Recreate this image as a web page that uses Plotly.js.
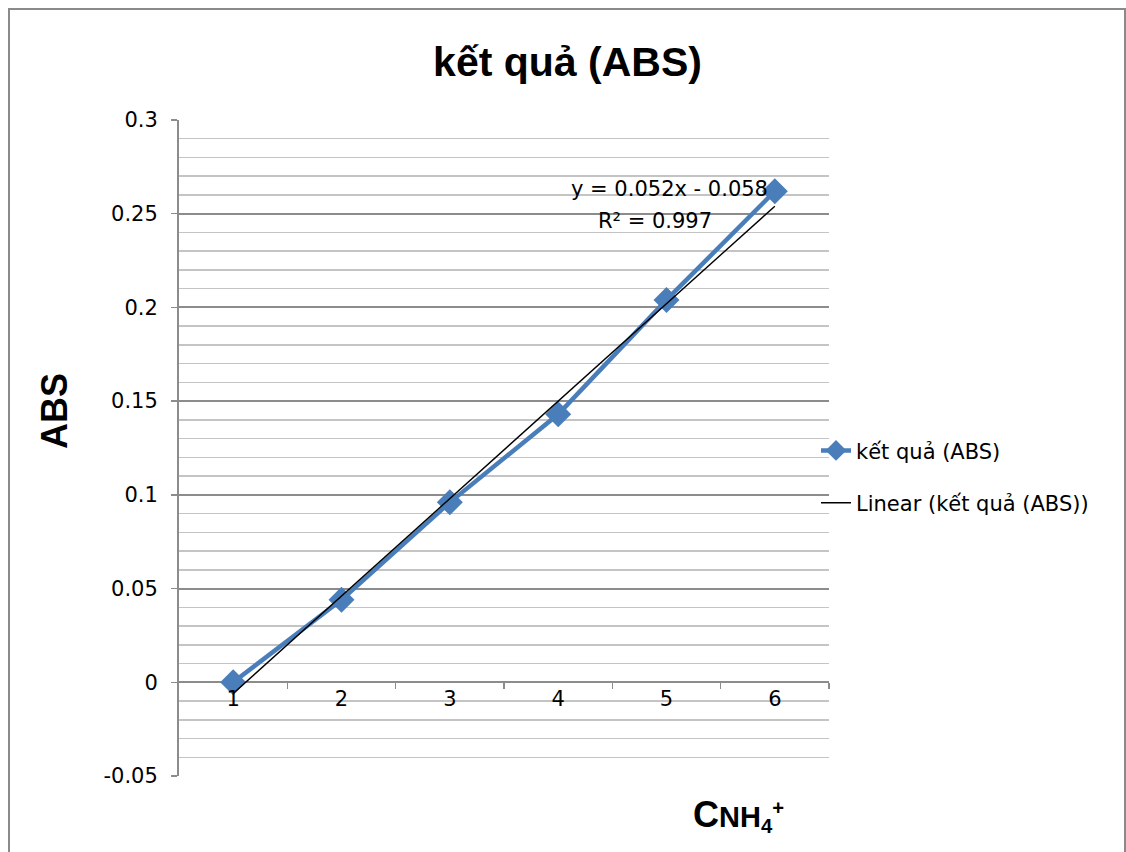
<!DOCTYPE html>
<html>
<head>
<meta charset="utf-8">
<script src="https://cdn.plot.ly/plotly-3.0.1.min.js"></script>
<style>
  html, body { margin: 0; padding: 0; background: #ffffff; overflow: hidden; }
  #wrap { position: relative; width: 1126px; height: 852px; }
  #chart { position: absolute; left: 0; top: 0; width: 1126px; height: 852px; }
  #frame { position: absolute; left: 8px; top: 8px; width: 1114px; height: 900px;
           border: 2px solid #8a8a8a; pointer-events: none; }
</style>
</head>
<body>
<div id="wrap">
  <div id="chart"></div>
  <div id="frame"></div>
</div>
<script>
// Concentration index and measured absorbance
const concentration = [1, 2, 3, 4, 5, 6];
const absorbance = [0, 0.044, 0.096, 0.143, 0.204, 0.262];

// Linear trendline as reported on the chart
const trendSlope = 0.052;
const trendIntercept = -0.058;
const trendR2 = 0.997;

// Axis tick labels
const xTickVals = [1, 2, 3, 4, 5, 6];
const xTickText = ['1', '2', '3', '4', '5', '6'];
const xDividers = [1.5, 2.5, 3.5, 4.5, 5.5, 6.5];
const yTickVals = [-0.05, 0, 0.05, 0.1, 0.15, 0.2, 0.25, 0.3];
const yTickText = ['-0.05', '0', '0.05', '0.1', '0.15', '0.2', '0.25', '0.3'];

// Minor gridlines every 0.01, skipping the major positions
const yMinorVals = [];
for (let k = -4; k < 30; k++) {
  if (k % 5 !== 0) yMinorVals.push(k / 100);
}

const seriesName = 'kết quả (ABS)';
const trendName = 'Linear (kết quả (ABS))';

const blue = '#4a7ebb';
const majorGrid = '#8c8c8c';
const minorGrid = '#c4c4c4';
const bodyFont = 'DejaVu Sans, Noto Sans, sans-serif';
const boldFont = 'Liberation Sans, Arial, sans-serif';

const trendY = concentration.map(x => trendSlope * x + trendIntercept);

const fmt = v => (v < 0 ? '- ' + Math.abs(v) : '+ ' + v);
const equationText = 'y = ' + trendSlope + 'x ' + fmt(trendIntercept);
const r2Text = 'R² = ' + trendR2;

const traces = [
  {
    x: concentration, y: absorbance, name: seriesName, type: 'scatter',
    mode: 'lines+markers', legendgroup: 'a',
    line: { color: blue, width: 4.5 },
    marker: { symbol: 'diamond', size: 20, color: blue },
    hoverinfo: 'x+y'
  },
  {
    x: concentration, y: trendY, name: trendName, type: 'scatter',
    mode: 'lines', legendgroup: 'b',
    line: { color: '#000000', width: 1.4 },
    hoverinfo: 'skip'
  },
  {
    x: [], y: [], xaxis: 'x2', showlegend: false, hoverinfo: 'skip', type: 'scatter'
  }
];

const zeroPos = (0 - (-0.05)) / (0.3 - (-0.05));

const layout = {
  width: 1126, height: 852, autosize: false,
  margin: { l: 179, r: 297, t: 120, b: 76, pad: 0 },
  paper_bgcolor: 'rgba(0,0,0,0)', plot_bgcolor: '#ffffff',
  showlegend: true,
  title: {
    text: '<b>kết quả (ABS)</b>',
    font: { family: boldFont, size: 41, color: '#000000' },
    xref: 'container', yref: 'container',
    x: 0.504, xanchor: 'center', y: 1 - 62 / 852, yanchor: 'middle'
  },
  xaxis: {
    range: [0.5, 6.5], tickmode: 'array', tickvals: xTickVals, ticktext: xTickText,
    anchor: 'free', position: zeroPos, showgrid: false, zeroline: false,
    showline: false, ticks: '', ticklabelstandoff: 2,
    tickfont: { family: bodyFont, size: 21, color: '#000000' },
    fixedrange: true
  },
  xaxis2: {
    overlaying: 'x', matches: 'x', range: [0.5, 6.5],
    tickmode: 'array', tickvals: xDividers, ticks: 'outside', ticklen: 6,
    tickwidth: 1.5, tickcolor: majorGrid, showticklabels: false,
    anchor: 'free', position: zeroPos, showgrid: false, zeroline: false, showline: false
  },
  yaxis: {
    range: [-0.05, 0.3], tickmode: 'array', tickvals: yTickVals, ticktext: yTickText,
    ticks: 'outside', ticklen: 6, tickwidth: 1.5, tickcolor: majorGrid,
    showline: true, linecolor: majorGrid, linewidth: 2,
    showgrid: true, gridcolor: majorGrid, gridwidth: 2,
    zeroline: true, zerolinecolor: majorGrid, zerolinewidth: 2,
    minor: { tickmode: 'array', tickvals: yMinorVals, showgrid: true,
             gridcolor: minorGrid, gridwidth: 1.5, ticks: '' },
    ticklabelstandoff: 9,
    tickfont: { family: bodyFont, size: 21, color: '#000000' },
    fixedrange: true
  },
  legend: {
    x: 0.98, xanchor: 'left', y: 0.527, yanchor: 'top',
    bgcolor: 'rgba(0,0,0,0)', borderwidth: 0,
    font: { family: bodyFont, size: 21, color: '#000000' },
    tracegroupgap: 22, itemwidth: 30
  },
  annotations: [
    {
      text: equationText, xref: 'paper', yref: 'paper',
      x: (669 - 179) / 650, y: (776 - 189) / 656, xanchor: 'center', yanchor: 'middle',
      showarrow: false, font: { family: bodyFont, size: 21, color: '#000000' }
    },
    {
      text: r2Text, xref: 'paper', yref: 'paper',
      x: (655 - 179) / 650, y: (776 - 221) / 656, xanchor: 'center', yanchor: 'middle',
      showarrow: false, font: { family: bodyFont, size: 21, color: '#000000' }
    },
    {
      text: '<b>ABS</b>', xref: 'paper', yref: 'paper', textangle: -90,
      x: (54 - 179) / 650, y: (776 - 411) / 656, xanchor: 'center', yanchor: 'middle',
      showarrow: false, font: { family: boldFont, size: 36, color: '#000000' }
    },
    {
      text: '<b>C<span style="font-size:29px">NH<sub>4</sub><sup>+</sup></span></b>',
      xref: 'paper', yref: 'paper',
      x: (738 - 179) / 650, y: (776 - 815) / 656, xanchor: 'center', yanchor: 'middle',
      showarrow: false, font: { family: boldFont, size: 36, color: '#000000' }
    }
  ]
};

Plotly.newPlot('chart', traces, layout, { displayModeBar: false, staticPlot: true });
</script>
</body>
</html>
